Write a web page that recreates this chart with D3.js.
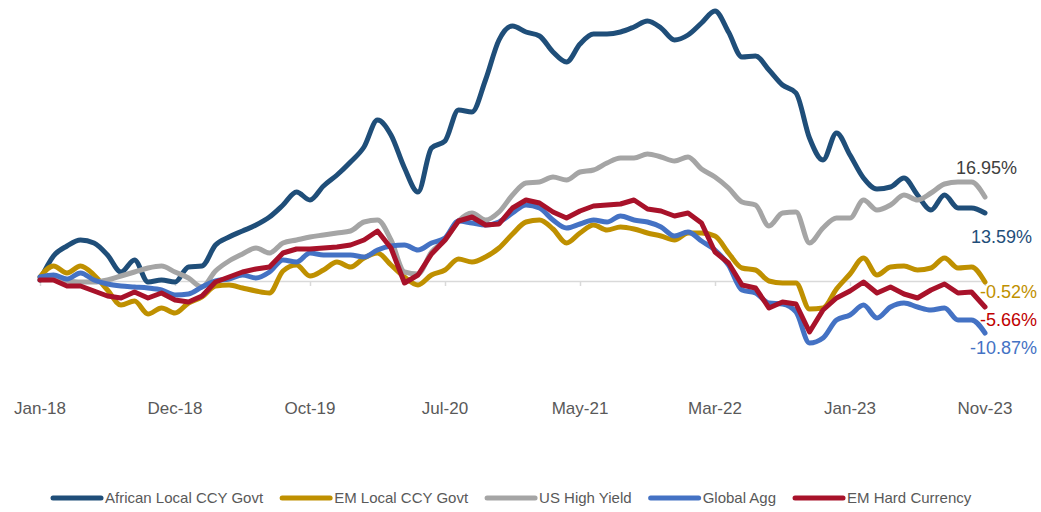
<!DOCTYPE html>
<html>
<head>
<meta charset="utf-8">
<script src="https://cdn.jsdelivr.net/npm/d3@7/dist/d3.min.js"></script>
<style>
  html, body { margin: 0; padding: 0; background: #fff; }
  svg { display: block; font-family: "Liberation Sans", Arial, sans-serif; }
</style>
</head>
<body>
<div id="chart"></div>
<script>
// monthly index 0 = Jan-18 ... 70 = Nov-23, cumulative return in %
const tickLabels = ['Jan-18', 'Dec-18', 'Oct-19', 'Jul-20', 'May-21', 'Mar-22', 'Jan-23', 'Nov-23'];
const tickIndex = [0, 10, 20, 30, 40, 50, 60, 70];

const seriesNames = ['African Local CCY Govt', 'EM Local CCY Govt', 'US High Yield', 'Global Agg', 'EM Hard Currency'];
const endLabels = ['13.59%', '-0.52%', '16.95%', '-10.87%', '-5.66%'];

const africanLocal = [
    0.2, 5.0, 7.0, 8.2, 7.6, 5.2, 1.8, 4.2, -0.2, 0.2,
    -0.2, 2.8, 3.0, 7.2, 8.8, 10.0, 11.2, 12.8, 15.2, 17.8,
    16.2, 19.0, 21.2, 23.8, 26.8, 32.2, 29.2, 22.6, 17.8, 26.6,
    28.0, 34.2, 33.8, 40.2, 48.2, 51.0, 49.8, 49.0, 45.8, 43.8,
    47.4, 49.4, 49.4, 49.8, 50.8, 52.0, 50.6, 48.2, 49.2, 51.6,
    54.0, 49.8, 44.8, 45.0, 42.2, 39.2, 37.6, 28.6, 24.2, 29.6,
    25.2, 20.6, 18.4, 18.8, 20.6, 17.2, 14.2, 17.2, 14.6, 14.6,
    13.6
];
const emLocal = [
    0.8, 3.0, 1.6, 3.0, 1.2, -1.8, -4.8, -4.0, -6.6, -5.4,
    -6.4, -4.4, -3.2, -1.0, -0.8, -1.4, -2.0, -2.4, 2.0, 3.2,
    1.0, 2.2, 3.8, 2.8, 4.6, 5.6, 3.2, 0.8, -0.8, 1.2,
    2.2, 4.4, 3.8, 4.8, 6.6, 9.4, 11.8, 12.2, 10.4, 7.6,
    9.6, 11.2, 10.2, 10.8, 10.4, 9.6, 9.0, 8.2, 9.6, 9.6,
    9.0, 5.6, 2.6, 2.2, 0.0, -0.4, -0.4, -5.6, -5.4, -1.6,
    1.4, 4.6, 1.2, 2.8, 3.0, 2.2, 2.6, 4.6, 2.6, 2.8,
    -0.2
];
const usHighYield = [
    0.4, 0.4, 0.0, -0.2, -0.2, 0.2, 1.0, 1.8, 2.6, 3.0,
    1.8, 0.6, -1.2, 2.0, 4.0, 5.4, 6.6, 5.6, 7.6, 8.2,
    8.8, 9.2, 9.6, 10.0, 11.8, 12.2, 8.2, 1.8, 1.4, 5.8,
    8.2, 12.0, 13.6, 12.2, 13.8, 17.2, 19.6, 19.8, 20.8, 20.2,
    21.8, 22.2, 23.6, 24.6, 24.6, 25.4, 24.8, 24.0, 24.8, 22.4,
    20.8, 18.6, 15.8, 15.2, 11.0, 13.6, 13.8, 7.6, 10.6, 12.6,
    12.6, 16.2, 14.2, 15.2, 17.2, 16.2, 17.6, 19.4, 19.8, 19.8,
    16.8
];
const globalAgg = [
    0.8, 1.2, 0.4, 1.6, 0.2, -0.6, -1.0, -1.2, -1.4, -1.8,
    -2.8, -2.6, -1.2, 0.0, 0.4, 1.2, 0.6, 1.8, 4.2, 3.8,
    5.6, 5.2, 5.2, 5.2, 4.8, 6.2, 7.0, 7.2, 6.2, 7.6,
    8.6, 12.0, 11.6, 11.2, 11.8, 13.6, 15.2, 14.6, 12.2, 10.6,
    11.4, 12.2, 11.8, 13.0, 12.2, 11.8, 10.8, 9.0, 9.8, 8.0,
    6.2, 3.2, -1.8, -2.4, -4.4, -4.6, -6.2, -12.4, -11.4, -7.8,
    -6.8, -4.8, -7.4, -5.2, -4.4, -5.2, -5.8, -5.4, -7.8, -7.8,
    -10.4
];
const emHardCurrency = [
    0.2, 0.2, -1.0, -1.0, -2.0, -3.0, -3.4, -2.2, -3.4, -2.4,
    -3.8, -4.2, -3.0, -0.2, 0.8, 1.8, 2.4, 2.8, 5.6, 6.4,
    6.4, 6.6, 6.8, 7.2, 8.2, 10.0, 6.6, -0.4, 1.2, 5.4,
    8.2, 12.0, 12.8, 11.2, 11.4, 14.6, 16.2, 15.6, 13.8, 12.6,
    14.0, 15.0, 15.2, 15.4, 16.2, 14.4, 14.0, 13.0, 13.6, 11.6,
    5.8, 3.6, -0.8, -1.4, -5.4, -4.2, -4.6, -10.2, -5.8, -3.4,
    -2.0, -0.2, -2.4, -1.2, -2.6, -3.4, -1.8, -0.6, -2.4, -2.2,
    -5.2
];

const seriesValues = [africanLocal, emLocal, usHighYield, globalAgg, emHardCurrency];
const colors = ['#1F4E79', '#BF9000', '#A5A5A5', '#4472C4', '#A8122A'];
const labelColors = ['#1F4E79', '#BF9000', '#404040', '#4472C4', '#C00000'];
// end label placement: right edge x, baseline offset from last point
const labelPos = [[1032, 30], [1037, 16], [1017, -23], [1037, 21], [1037, 19]];

const width = 1041, height = 512;

const svg = d3.select('#chart')
    .append('svg')
    .attr('width', width)
    .attr('height', height);

svg.append('rect').attr('width', width).attr('height', height).attr('fill', '#fff');

const xScale = d3.scaleLinear()
    .domain([0, 70])
    .range([40, 985]);

const yScale = d3.scaleLinear()
    .domain([-20, 56])
    .range([381, 1]);

// zero axis with small ticks
const xAxis = svg.append('g')
    .attr('transform', `translate(0, ${yScale(0)})`)
    .call(d3.axisBottom(xScale).tickValues(tickIndex).tickSize(5).tickSizeOuter(0).tickFormat(''));
xAxis.select('.domain').attr('stroke', '#D9D9D9').attr('stroke-width', 1.5);
xAxis.selectAll('.tick line').attr('stroke', '#D9D9D9').attr('stroke-width', 1.5);

svg.append('g')
    .selectAll('text')
    .data(tickLabels)
    .enter()
    .append('text')
    .attr('x', (d, i) => xScale(tickIndex[i]))
    .attr('y', 414)
    .attr('text-anchor', 'middle')
    .style('font-size', '17px')
    .attr('fill', '#595959')
    .text(d => d);

const smoothLine = d3.line()
    .x((d, i) => xScale(i))
    .y(d => yScale(d))
    .curve(d3.curveMonotoneX);

const sharpLine = d3.line()
    .x((d, i) => xScale(i))
    .y(d => yScale(d));

svg.append('g')
    .selectAll('path')
    .data(seriesValues)
    .enter()
    .append('path')
    .attr('d', (d, i) => i === 4 ? sharpLine(d) : smoothLine(d))
    .attr('fill', 'none')
    .attr('stroke', (d, i) => colors[i])
    .attr('stroke-width', 5)
    .attr('stroke-linejoin', 'round')
    .attr('stroke-linecap', 'round');

svg.append('g')
    .selectAll('text')
    .data(endLabels)
    .enter()
    .append('text')
    .attr('x', (d, i) => labelPos[i][0])
    .attr('y', (d, i) => yScale(seriesValues[i][seriesValues[i].length - 1]) + labelPos[i][1])
    .attr('text-anchor', 'end')
    .style('font-size', '18px')
    .attr('fill', (d, i) => labelColors[i])
    .text(d => d);

// legend
const legend = svg.append('g').attr('transform', 'translate(50, 498)');
let lx = 0;
seriesNames.forEach((name, i) => {
    const g = legend.append('g').attr('transform', `translate(${lx}, 0)`);
    g.append('line')
        .attr('x1', 3).attr('x2', 51)
        .attr('y1', 0).attr('y2', 0)
        .attr('stroke', colors[i])
        .attr('stroke-width', 5)
        .attr('stroke-linecap', 'round');
    const t = g.append('text')
        .attr('x', 55)
        .attr('y', 5)
        .style('font-size', '15px')
        .attr('fill', '#595959')
        .text(name);
    lx += 55 + t.node().getComputedTextLength() + 16;
});
</script>
</body>
</html>
